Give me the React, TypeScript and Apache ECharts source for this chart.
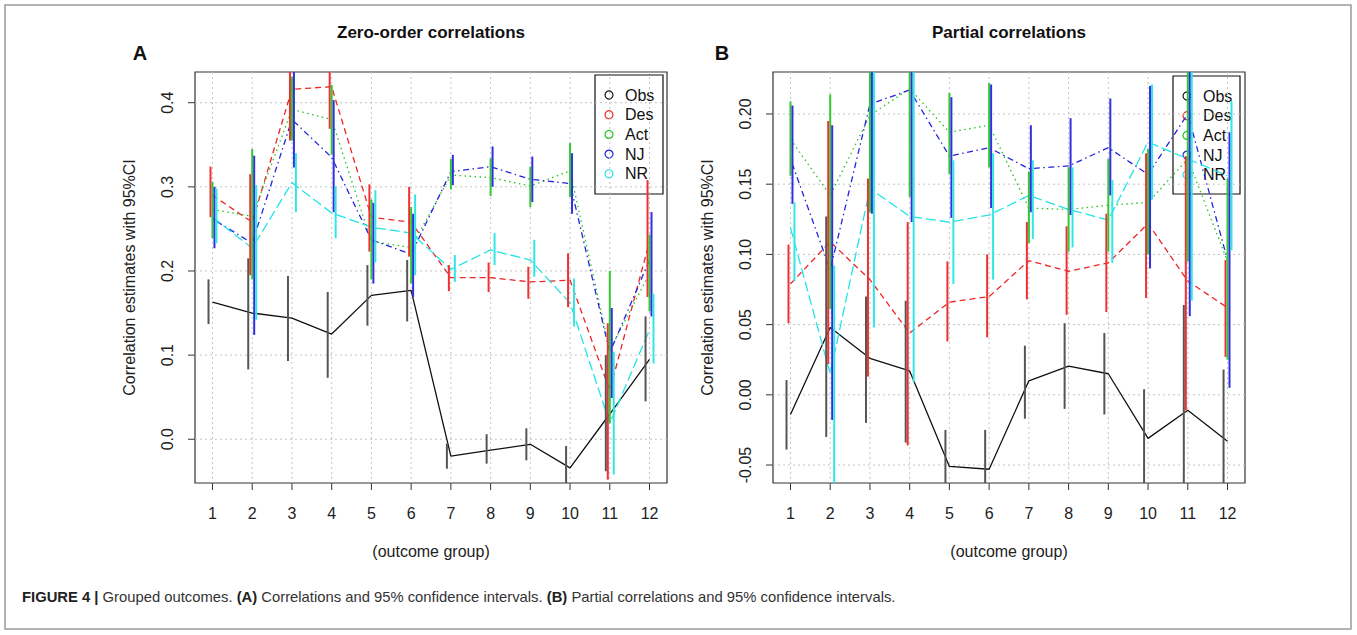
import React, { useEffect, useRef } from 'react';
import * as echarts from 'echarts';

// ---------- data ----------
const groups = [1, 2, 3, 4, 5, 6, 7, 8, 9, 10, 11, 12];
const seriesNames = ['Obs', 'Des', 'Act', 'NJ', 'NR'];
const yTicksA = [0, 0.1, 0.2, 0.3, 0.4];
const yTicksB = [-0.05, 0, 0.05, 0.1, 0.15, 0.2];

// Panel A: zero-order correlations
const obsA = [0.163, 0.150, 0.144, 0.125, 0.171, 0.177, -0.020, -0.013, -0.006, -0.034, 0.030, 0.095];
const obsALo = [0.137, 0.083, 0.093, 0.073, 0.135, 0.140, -0.035, -0.029, -0.025, -0.058, -0.038, 0.045];
const obsAHi = [0.190, 0.215, 0.194, 0.175, 0.207, 0.213, -0.005, 0.006, 0.013, -0.008, 0.100, 0.146];
const desA = [0.290, 0.258, 0.416, 0.419, 0.264, 0.258, 0.192, 0.192, 0.187, 0.189, 0.058, 0.235];
const desALo = [0.264, 0.195, 0.355, 0.369, 0.223, 0.217, 0.176, 0.175, 0.167, 0.157, -0.048, 0.169];
const desAHi = [0.324, 0.315, 0.470, 0.470, 0.303, 0.300, 0.207, 0.210, 0.205, 0.221, 0.138, 0.308];
const actA = [0.273, 0.265, 0.392, 0.380, 0.235, 0.228, 0.314, 0.311, 0.301, 0.319, 0.106, 0.197];
const actALo = [0.239, 0.190, 0.355, 0.338, 0.190, 0.185, 0.297, 0.289, 0.276, 0.288, 0.019, 0.152];
const actAHi = [0.306, 0.345, 0.431, 0.421, 0.285, 0.276, 0.333, 0.334, 0.324, 0.352, 0.200, 0.243];
const njA = [0.262, 0.233, 0.380, 0.335, 0.237, 0.220, 0.318, 0.324, 0.309, 0.304, 0.103, 0.213];
const njALo = [0.227, 0.124, 0.323, 0.270, 0.185, 0.169, 0.302, 0.300, 0.282, 0.268, 0.049, 0.146];
const njAHi = [0.300, 0.337, 0.460, 0.403, 0.281, 0.268, 0.338, 0.348, 0.336, 0.340, 0.156, 0.270];
const nrA = [0.264, 0.227, 0.305, 0.269, 0.252, 0.245, 0.202, 0.225, 0.213, 0.162, 0.019, 0.130];
const nrALo = [0.233, 0.142, 0.270, 0.239, 0.210, 0.195, 0.187, 0.207, 0.193, 0.134, -0.042, 0.090];
const nrAHi = [0.298, 0.302, 0.340, 0.301, 0.296, 0.291, 0.219, 0.245, 0.237, 0.191, 0.104, 0.173];

// Panel B: partial correlations
const obsB = [-0.014, 0.048, 0.026, 0.017, -0.051, -0.053, 0.010, 0.0205, 0.015, -0.031, -0.011, -0.033];
const obsBLo = [-0.039, -0.030, -0.020, -0.034, -0.075, -0.075, -0.017, -0.010, -0.014, -0.075, -0.090, -0.080];
const obsBHi = [0.0105, 0.127, 0.070, 0.067, -0.025, -0.025, 0.035, 0.051, 0.044, 0.004, 0.064, 0.018];
const desB = [0.079, 0.109, 0.082, 0.044, 0.066, 0.070, 0.0955, 0.088, 0.094, 0.122, 0.081, 0.062];
const desBLo = [0.051, 0.022, 0.013, -0.036, 0.038, 0.041, 0.068, 0.057, 0.059, 0.069, -0.011, 0.027];
const desBHi = [0.107, 0.195, 0.154, 0.123, 0.095, 0.100, 0.123, 0.120, 0.129, 0.172, 0.170, 0.096];
const actB = [0.182, 0.142, 0.199, 0.218, 0.187, 0.192, 0.133, 0.132, 0.135, 0.137, 0.168, 0.095];
const actBLo = [0.156, 0.061, 0.130, 0.141, 0.157, 0.162, 0.108, 0.102, 0.102, 0.100, 0.095, 0.025];
const actBHi = [0.209, 0.214, 0.270, 0.290, 0.215, 0.222, 0.159, 0.162, 0.168, 0.175, 0.250, 0.154];
const njB = [0.168, 0.089, 0.207, 0.217, 0.170, 0.176, 0.161, 0.163, 0.176, 0.157, 0.200, 0.096];
const njBLo = [0.136, -0.018, 0.129, 0.123, 0.126, 0.133, 0.130, 0.128, 0.142, 0.090, 0.056, 0.005];
const njBHi = [0.206, 0.192, 0.280, 0.310, 0.212, 0.221, 0.192, 0.197, 0.211, 0.220, 0.290, 0.187];
const nrB = [0.119, 0.015, 0.147, 0.127, 0.123, 0.128, 0.142, 0.132, 0.1245, 0.180, 0.168, 0.156];
const nrBLo = [0.081, -0.075, 0.048, 0.009, 0.079, 0.082, 0.111, 0.105, 0.094, 0.139, 0.067, 0.103];
const nrBHi = [0.137, 0.092, 0.260, 0.260, 0.167, 0.172, 0.167, 0.162, 0.153, 0.221, 0.300, 0.209];

const panels = [
  { vals: [obsA, desA, actA, njA, nrA], lo: [obsALo, desALo, actALo, njALo, nrALo], hi: [obsAHi, desAHi, actAHi, njAHi, nrAHi] },
  { vals: [obsB, desB, actB, njB, nrB], lo: [obsBLo, desBLo, actBLo, njBLo, nrBLo], hi: [obsBHi, desBHi, actBHi, njBHi, nrBHi] },
];

// ---------- styles ----------
const FONT = "'Liberation Sans', Arial, Helvetica, sans-serif";
const LINE_COLORS = ['#111111', '#f02424', '#22c322', '#2424e0', '#22e4e4'];
const BAR_COLORS = ['#555555', '#f03030', '#33c833', '#3030e0', '#33e6e6'];
const DASHES: any[] = ['solid', [6, 4], [1.5, 3.5], [1.5, 3.5, 6, 3.5], [10, 4]];
const OFFSETS = [-0.1, -0.05, 0, 0.05, 0.1];
const TICK_LEN = 7;

const GRID_LEFTS = [195, 773];
const GRID_TOP = 72;
const GRID_W = 472;
const GRID_H = 411;
const Y_RANGES = [[-0.052, 0.4365], [-0.0628, 0.2299]];

function barRender(off: number, color: string) {
  return (params: any, api: any) => {
    const cs = params.coordSys;
    const x = api.value(0) + off;
    const a = api.coord([x, api.value(1)]);
    const b = api.coord([x, api.value(2)]);
    const top = cs.y;
    const bot = cs.y + cs.height;
    const y1 = Math.max(top, Math.min(bot, a[1]));
    const y2 = Math.max(top, Math.min(bot, b[1]));
    return {
      type: 'line',
      shape: { x1: a[0], y1, x2: a[0], y2 },
      style: { stroke: color, lineWidth: 2 },
    };
  };
}

const GRID_STYLE = { stroke: '#c4c4c4', lineWidth: 1, lineDash: [2, 3] };
const TICK_STYLE = { stroke: '#333', lineWidth: 1 };

function vGridRender(params: any, api: any) {
  const cs = params.coordSys;
  const p = api.coord([api.value(0), api.value(1)]);
  const bot = cs.y + cs.height;
  return {
    type: 'group',
    children: [
      { type: 'line', shape: { x1: p[0], y1: cs.y, x2: p[0], y2: bot }, style: GRID_STYLE },
      { type: 'line', shape: { x1: p[0], y1: bot, x2: p[0], y2: bot + TICK_LEN }, style: TICK_STYLE },
    ],
  };
}
function hGridRender(params: any, api: any) {
  const cs = params.coordSys;
  const p = api.coord([api.value(0), api.value(1)]);
  return {
    type: 'group',
    children: [
      { type: 'line', shape: { x1: cs.x, y1: p[1], x2: cs.x + cs.width, y2: p[1] }, style: GRID_STYLE },
      { type: 'line', shape: { x1: cs.x - TICK_LEN, y1: p[1], x2: cs.x, y2: p[1] }, style: TICK_STYLE },
    ],
  };
}

function buildOption() {
  const yTicks = [yTicksA, yTicksB];
  const fmt = [(v: number) => v.toFixed(1), (v: number) => v.toFixed(2)];
  const grid = GRID_LEFTS.map((l) => ({
    left: l, top: GRID_TOP, width: GRID_W, height: GRID_H,
    show: true, borderColor: '#333', borderWidth: 1.2, backgroundColor: 'transparent',
  }));
  const xAxis = [0, 1].map((p) => ({
    gridIndex: p, type: 'value', min: 0.56, max: 12.44,
    axisLine: { show: false, onZero: false },
    axisTick: { show: false },
    axisLabel: { customValues: groups, margin: 22, fontSize: 16, color: '#222', fontFamily: FONT },
    splitLine: { show: false },
    name: '(outcome group)', nameLocation: 'middle', nameGap: 60,
    nameTextStyle: { fontSize: 16, color: '#222', fontFamily: FONT },
  }));
  const yAxis = [0, 1].map((p) => ({
    gridIndex: p, type: 'value', min: Y_RANGES[p][0], max: Y_RANGES[p][1],
    axisLine: { show: false, onZero: false },
    axisTick: { show: false },
    axisLabel: { customValues: yTicks[p], rotate: 90, margin: 20, fontSize: 16, color: '#222', fontFamily: FONT, formatter: fmt[p] },
    splitLine: { show: false },
    name: 'Correlation estimates with 95%CI', nameLocation: 'middle', nameGap: 58, nameRotate: 90,
    nameTextStyle: { fontSize: 16, color: '#222', fontFamily: FONT },
  }));

  const series: any[] = [];
  [0, 1].forEach((p) => {
    series.push({
      type: 'custom', xAxisIndex: p, yAxisIndex: p, silent: true, z: 1, clip: false,
      data: groups.map((g) => [g, Y_RANGES[p][0]]), renderItem: vGridRender,
    });
    series.push({
      type: 'custom', xAxisIndex: p, yAxisIndex: p, silent: true, z: 1, clip: false,
      data: yTicks[p].map((v) => [1, v]), renderItem: hGridRender,
    });
    seriesNames.forEach((name, s) => {
      const panel = panels[p];
      series.push({
        name, type: 'line', xAxisIndex: p, yAxisIndex: p, silent: true, z: 2,
        symbol: 'none', showSymbol: false,
        data: groups.map((g, i) => [g, panel.vals[s][i]]),
        lineStyle: { color: LINE_COLORS[s], width: 1.3, type: DASHES[s] },
        itemStyle: { color: LINE_COLORS[s] },
      });
      series.push({
        name, type: 'custom', xAxisIndex: p, yAxisIndex: p, silent: true, z: 3,
        data: groups.map((g, i) => [g, panel.lo[s][i], panel.hi[s][i]]),
        encode: { x: 0, y: [1, 2] },
        renderItem: barRender(OFFSETS[s], BAR_COLORS[s]),
      });
    });
  });

  const legendBoxes = [{ x: 595, y: 75, w: 68, h: 119 }, { x: 1173, y: 76, w: 67, h: 118 }];
  const graphics: any[] = [
    { type: 'rect', z: 0, shape: { x: 5, y: 5, width: 1346, height: 624 }, style: { fill: 'none', stroke: '#9a9a9a', lineWidth: 1.5 } },
    { type: 'text', z: 5, x: 431, y: 32, style: { text: 'Zero-order correlations', textAlign: 'center', textVerticalAlign: 'middle', fontSize: 17, fontWeight: 'bold', fontFamily: FONT, fill: '#111' } },
    { type: 'text', z: 5, x: 1009, y: 32, style: { text: 'Partial correlations', textAlign: 'center', textVerticalAlign: 'middle', fontSize: 17, fontWeight: 'bold', fontFamily: FONT, fill: '#111' } },
    { type: 'text', z: 5, x: 140, y: 53, style: { text: 'A', textAlign: 'center', textVerticalAlign: 'middle', fontSize: 20, fontWeight: 'bold', fontFamily: FONT, fill: '#111' } },
    { type: 'text', z: 5, x: 722, y: 53, style: { text: 'B', textAlign: 'center', textVerticalAlign: 'middle', fontSize: 20, fontWeight: 'bold', fontFamily: FONT, fill: '#111' } },
    {
      type: 'text', z: 5, x: 22, y: 597,
      style: {
        text: '{b|FIGURE 4 |} Grouped outcomes. {b|(A)} Correlations and 95% confidence intervals. {b|(B)} Partial correlations and 95% confidence intervals.',
        textVerticalAlign: 'middle', fontSize: 14.8, fontFamily: FONT, fill: '#333',
        rich: { b: { fontSize: 14.8, fontWeight: 'bold', fontFamily: FONT, fill: '#222', color: '#222' } },
      },
    },
  ];
  legendBoxes.forEach((b) => {
    graphics.push({ type: 'rect', z: 1, shape: { x: b.x, y: b.y, width: b.w, height: b.h }, style: { fill: 'none', stroke: '#111', lineWidth: 1.2 } });
    seriesNames.forEach((name, s) => {
      const cy = b.y + 20 + s * 19.7;
      graphics.push({ type: 'circle', z: 1, shape: { cx: b.x + 14, cy, r: 4 }, style: { fill: 'none', stroke: LINE_COLORS[s], lineWidth: 1.2 } });
      graphics.push({ type: 'text', z: 1, x: b.x + 30, y: cy, style: { text: name, textVerticalAlign: 'middle', fontSize: 16, fontFamily: FONT, fill: '#111' } });
    });
  });

  return {
    animation: false,
    backgroundColor: '#fff',
    grid, xAxis, yAxis, series, graphic: graphics,
  };
}

export default function App() {
  const ref = useRef<HTMLDivElement>(null);
  useEffect(() => {
    if (!ref.current) return;
    const chart = echarts.init(ref.current, undefined, { renderer: 'svg' });
    chart.setOption(buildOption() as any);
    return () => chart.dispose();
  }, []);
  return <div ref={ref} style={{ position: 'absolute', left: 0, top: 0, width: 1357, height: 635 }} />;
}
